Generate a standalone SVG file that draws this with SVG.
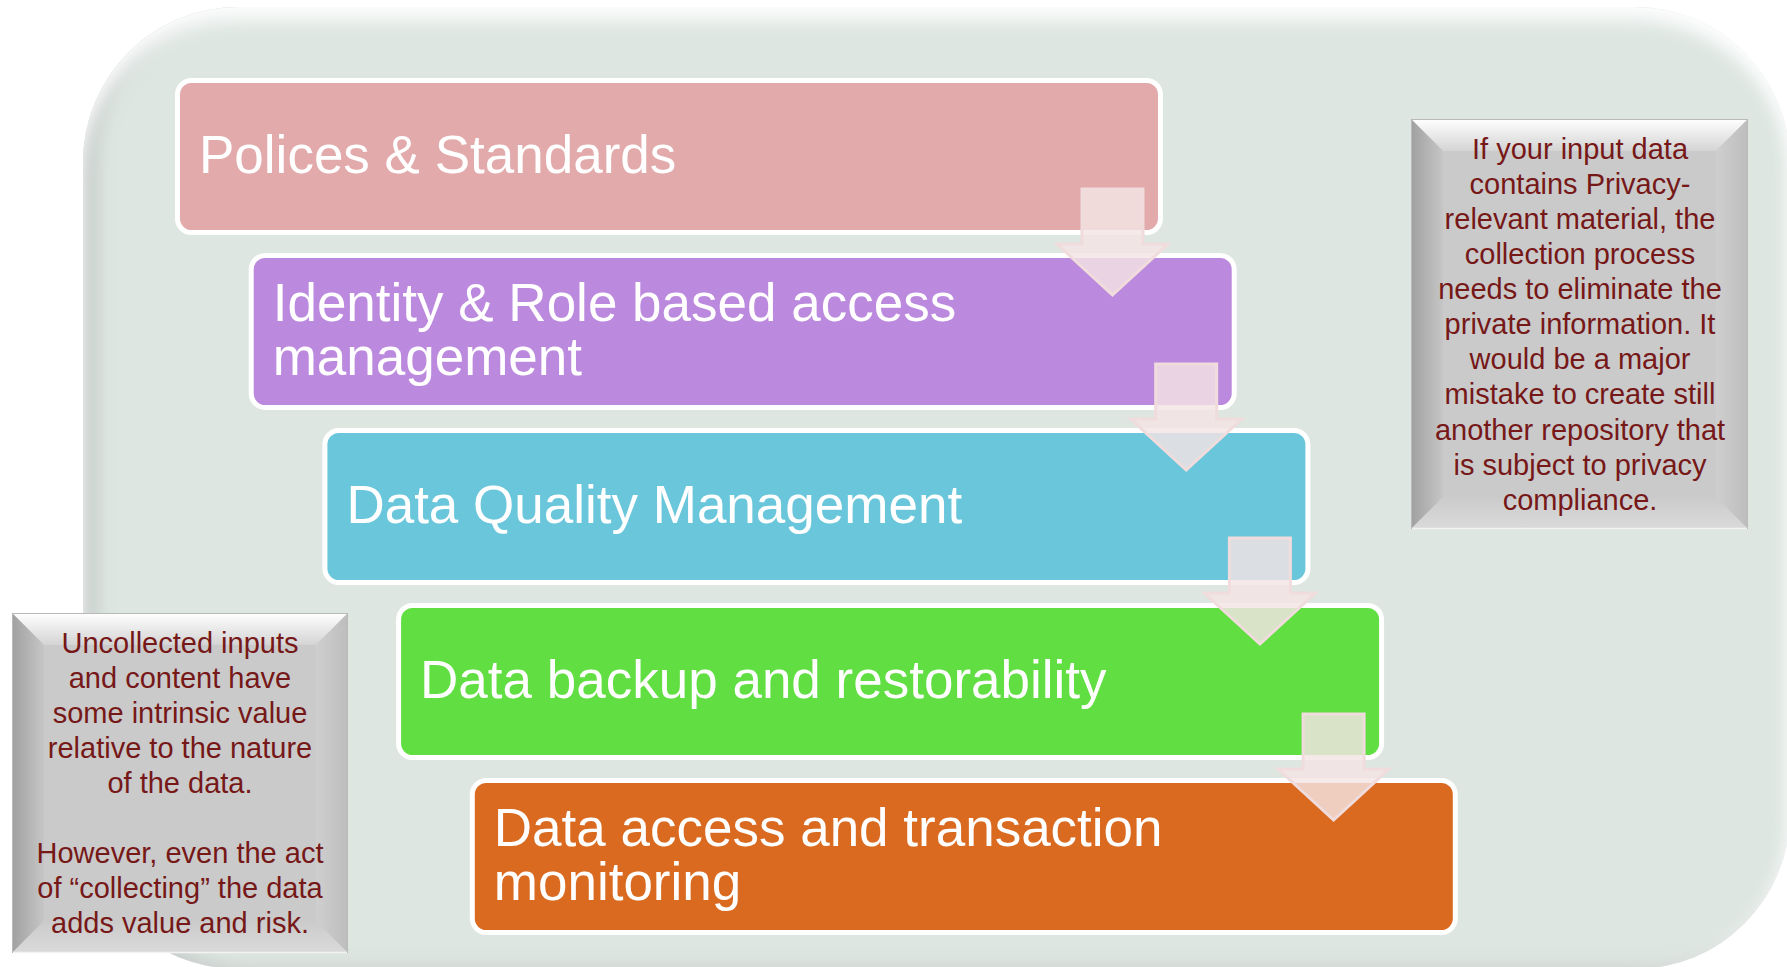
<svg xmlns="http://www.w3.org/2000/svg" width="1787" height="967" viewBox="0 0 1787 967">
<defs>
<style>
.boxText{font-family:"Liberation Sans",Arial,sans-serif;font-size:53px;fill:#ffffff;}
.note{font-family:"Liberation Sans",Arial,sans-serif;font-size:29px;fill:#761818;text-anchor:middle;}
.box{stroke:#ffffff;stroke-width:5;}
.arrow{fill:#f4e4e4;fill-opacity:0.82;stroke:#f0dcdc;stroke-width:3;stroke-linejoin:miter;}
.body{fill:#cacaca;}
.edge{fill:none;stroke:#b9b9b9;stroke-width:1;}
</style>
<filter id="bgBevel" x="-3%" y="-3%" width="106%" height="106%">
<feComponentTransfer in="SourceAlpha" result="inv"><feFuncA type="table" tableValues="1 0"/></feComponentTransfer>
<feGaussianBlur in="inv" stdDeviation="9" result="invb"/>
<feOffset in="invb" dx="11" dy="0" result="sh"/>
<feFlood flood-color="#7a8480" flood-opacity="0.55"/>
<feComposite in2="sh" operator="in"/>
<feComposite in2="SourceAlpha" operator="in" result="dark"/>
<feOffset in="invb" dx="0" dy="13" result="hl0"/>
<feFlood flood-color="#ffffff" flood-opacity="0.95"/>
<feComposite in2="hl0" operator="in"/>
<feComposite in2="SourceAlpha" operator="in" result="light"/>
<feFlood flood-color="#ffffff" flood-opacity="0.6"/>
<feComposite in2="invb" operator="in"/>
<feComposite in2="SourceAlpha" operator="in" result="rim"/>
<feMerge><feMergeNode in="SourceGraphic"/><feMergeNode in="rim"/><feMergeNode in="dark"/><feMergeNode in="light"/></feMerge>
</filter>
<linearGradient id="bevTop" x1="0" y1="0" x2="0" y2="1"><stop offset="0" stop-color="#ffffff"/><stop offset="1" stop-color="#d4d4d4"/></linearGradient>
<linearGradient id="bevLeft" x1="0" y1="0" x2="1" y2="0"><stop offset="0" stop-color="#a0a0a0"/><stop offset="1" stop-color="#c6c6c6"/></linearGradient>
<linearGradient id="bevRight" x1="0" y1="0" x2="1" y2="0"><stop offset="0" stop-color="#cfcfcf"/><stop offset="1" stop-color="#bdbdbd"/></linearGradient>
<linearGradient id="bevBottom" x1="0" y1="0" x2="0" y2="1"><stop offset="0" stop-color="#cbcbcb"/><stop offset="1" stop-color="#dadada"/></linearGradient>
</defs>

<g id="background">
<rect x="83" y="7" width="1707" height="962" rx="155" ry="155" fill="#dde6e1" filter="url(#bgBevel)"/>
</g>

<g id="node-policies">
<rect class="box" x="177.5" y="80.5" width="983" height="152" rx="14" fill="#e2aaab"/>
<text class="boxText" x="199" y="173">Polices &amp; Standards</text>
</g>

<g id="node-identity">
<rect class="box" x="251.2" y="255.5" width="983" height="152" rx="14" fill="#bb89dd"/>
<text class="boxText" x="272.7" y="321">Identity &amp; Role based access</text>
<text class="boxText" x="272.7" y="375">management</text>
</g>

<g id="node-quality">
<rect class="box" x="324.9" y="430.5" width="983" height="152" rx="14" fill="#69c6db"/>
<text class="boxText" x="346.4" y="523">Data Quality Management</text>
</g>

<g id="node-backup">
<rect class="box" x="398.6" y="605.5" width="983" height="152" rx="14" fill="#60de42"/>
<text class="boxText" x="420.1" y="698">Data backup and restorability</text>
</g>

<g id="node-monitoring">
<rect class="box" x="472.3" y="780.5" width="983" height="152" rx="14" fill="#d96a20"/>
<text class="boxText" x="493.8" y="846">Data access and transaction</text>
<text class="boxText" x="493.8" y="900">monitoring</text>
</g>

<g id="connectors">
<polygon class="arrow" points="1082,189 1143,189 1143,244 1168,244 1112.5,295 1057,244 1082,244"/>
<polygon class="arrow" points="1155.7,364 1216.7,364 1216.7,419 1241.7,419 1186.2,470 1130.7,419 1155.7,419"/>
<polygon class="arrow" points="1229.4,538 1290.4,538 1290.4,593 1315.4,593 1259.9,644 1204.4,593 1229.4,593"/>
<polygon class="arrow" points="1303.1,714 1364.1,714 1364.1,769 1389.1,769 1333.6,820 1278.1,769 1303.1,769"/>
</g>

<g id="note-privacy">
<rect class="body" x="1411" y="119" width="337" height="410"/>
<polygon points="1411,119 1748,119 1716,151 1443,151" fill="url(#bevTop)"/>
<polygon points="1411,119 1443,151 1443,497 1411,529" fill="url(#bevLeft)"/>
<polygon points="1748,119 1748,529 1716,497 1716,151" fill="url(#bevRight)"/>
<polygon points="1411,529 1748,529 1716,497 1443,497" fill="url(#bevBottom)"/>
<rect class="edge" x="1411.5" y="119.5" width="336" height="409"/>
<line x1="1412" y1="528.5" x2="1747" y2="528.5" stroke="#f2f2f2" stroke-width="1.5"/>
<text class="note" x="1580" y="159">If your input data</text>
<text class="note" x="1580" y="194">contains Privacy-</text>
<text class="note" x="1580" y="229">relevant material, the</text>
<text class="note" x="1580" y="264">collection process</text>
<text class="note" x="1580" y="299">needs to eliminate the</text>
<text class="note" x="1580" y="334">private information. It</text>
<text class="note" x="1580" y="369">would be a major</text>
<text class="note" x="1580" y="404">mistake to create still</text>
<text class="note" x="1580" y="440">another repository that</text>
<text class="note" x="1580" y="475">is subject to privacy</text>
<text class="note" x="1580" y="510">compliance.</text>
</g>

<g id="note-uncollected">
<rect class="body" x="12" y="613" width="336" height="340"/>
<polygon points="12,613 348,613 316,645 44,645" fill="url(#bevTop)"/>
<polygon points="12,613 44,645 44,921 12,953" fill="url(#bevLeft)"/>
<polygon points="348,613 348,953 316,921 316,645" fill="url(#bevRight)"/>
<polygon points="12,953 348,953 316,921 44,921" fill="url(#bevBottom)"/>
<rect class="edge" x="12.5" y="613.5" width="335" height="339"/>
<line x1="13" y1="952.5" x2="347" y2="952.5" stroke="#f2f2f2" stroke-width="1.5"/>
<text class="note" x="180" y="653">Uncollected inputs</text>
<text class="note" x="180" y="688">and content have</text>
<text class="note" x="180" y="723">some intrinsic value</text>
<text class="note" x="180" y="758">relative to the nature</text>
<text class="note" x="180" y="793">of the data.</text>
<text class="note" x="180" y="863">However, even the act</text>
<text class="note" x="180" y="898">of “collecting” the data</text>
<text class="note" x="180" y="933">adds value and risk.</text>
</g>
</svg>
